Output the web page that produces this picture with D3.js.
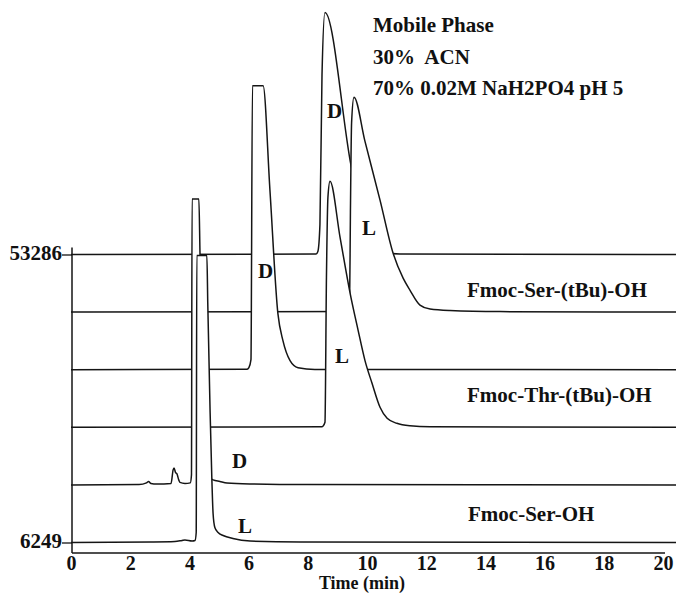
<!DOCTYPE html>
<html><head><meta charset="utf-8">
<script src="https://cdn.jsdelivr.net/npm/d3@7"></script>
<style>
html,body{margin:0;padding:0;background:#fff;}
svg{display:block;}
svg text{font-family:"Liberation Serif","Times New Roman",serif !important;font-weight:bold;fill:#111;}
</style></head><body>
<svg id="c" width="676" height="594"></svg>
<script>
// ---------- DATA ----------
const xTicks = [0, 2, 4, 6, 8, 10, 12, 14, 16, 18, 20];
const yTicks = [6249, 53286];
const xTitle = "Time (min)";
const mobilePhase = ["Mobile Phase", "30%  ACN", "70% 0.02M NaH2PO4 pH 5"];
const compounds = ["Fmoc-Ser-(tBu)-OH", "Fmoc-Thr-(tBu)-OH", "Fmoc-Ser-OH"];
const enantiomers = ["D", "L", "D", "L", "D", "L"];
// baseline offset (counts) of each trace, back to front
const baselineCounts = [53286, 43879, 34471, 25064, 15656, 6249];

// [time (min), signal above baseline (counts)]
const serTbuD = [[0,0],[8.28,80],[8.34,490],[8.41,4900],[8.48,29400],[8.58,39520],[9.46,14540],[9.76,7510],[10.03,3100],[10.30,980],[10.61,330],[11.11,80],[20.5,0]];
const serTbuL = [[0,0],[9.36,80],[9.41,490],[9.44,16330],[9.48,31030],[9.56,35110],[9.93,27930],[10.44,18290],[10.88,9640],[11.22,5550],[11.45,3590],[11.79,1140],[12.13,490],[12.80,245],[14.49,80],[20.5,0]];
const thrTbuD = [[0,0],[5.95,80],[6.01,330],[6.08,1630],[6.13,46380],[6.49,46380],[6.72,29400],[6.99,9150],[7.16,4740],[7.40,1470],[7.67,330],[8.24,50],[20.5,0]];
const thrTbuL = [[0,0],[8.48,80],[8.51,160],[8.58,820],[8.63,24500],[8.68,37560],[8.75,40180],[9.09,31030],[9.43,21880],[9.70,15840],[9.93,10940],[10.17,7190],[10.44,3270],[10.68,1470],[11.01,650],[11.45,245],[12.13,80],[20.5,0]];
const serD = [[0,0],[2.3,50],[2.55,330],[2.62,570],[2.70,245],[2.9,160],[3.38,245],[3.45,2450],[3.48,2780],[3.53,2040],[3.58,1800],[3.64,820],[3.68,410],[3.85,245],[4.03,330],[4.07,1630],[4.09,46710],[4.32,46710],[4.36,37400],[4.39,32660],[4.46,19600],[4.53,8170],[4.59,3270],[4.70,1140],[4.80,820],[5.03,570],[5.27,330],[6.05,160],[8,50],[20.5,0]];
const serL = [[0,0],[2.7,80],[3.51,160],[3.75,330],[3.85,410],[4.09,245],[4.19,330],[4.23,1630],[4.25,46870],[4.59,46870],[4.62,39200],[4.70,21230],[4.76,10130],[4.80,4740],[4.86,2450],[4.97,1630],[5.14,1140],[5.47,650],[6.05,245],[7.74,80],[20.5,0]];
const traces = [serTbuD, serTbuL, thrTbuD, thrTbuL, serD, serL];

// ---------- CHART ----------
const FONT = '"Liberation Serif","Times New Roman",serif';
const svg = d3.select("#c");
const x = d3.scaleLinear().domain([0, 20]).range([71, 663]);
const y = d3.scaleLinear().domain([6249, 53286]).range([542.5, 254.5]);
const axisY = 553;
const stroke = "#151515";

// traces, back to front, with white fill to hide lines behind
traces.forEach((tr, i) => {
  const b = baselineCounts[i];
  const area = d3.area().curve(d3.curveMonotoneX)
    .x(d => x(d[0])).y0(y(b)).y1(d => y(b + d[1]));
  const line = d3.line().curve(d3.curveMonotoneX)
    .x(d => x(d[0])).y(d => y(b + d[1]));
  svg.append("path").attr("d", area(tr)).attr("fill", "#fff").attr("stroke", "none");
  svg.append("path").attr("d", line(tr)).attr("fill", "none")
    .attr("stroke", stroke).attr("stroke-width", 1.5).attr("stroke-linejoin", "round");
});

// x axis
const gx = svg.append("g").attr("transform", `translate(0,${axisY})`)
  .call(d3.axisBottom(x).tickValues(xTicks).tickSize(0).tickPadding(3).tickFormat(d3.format("d")));
gx.attr("font-family", FONT);
gx.select(".domain").remove();
gx.selectAll("text").attr("font-size", 20).style("font-family", FONT).style("font-weight", "bold").style("fill", "#111");
svg.append("line").attr("x1", x(0) + 1).attr("x2", x(20) + 2).attr("y1", axisY).attr("y2", axisY)
  .attr("stroke", stroke).attr("stroke-width", 1.5);

// y axis
const gy = svg.append("g").attr("transform", `translate(${x(0) + 1},0)`)
  .call(d3.axisLeft(y).tickValues(yTicks).tickSize(10).tickPadding(0).tickFormat(d3.format("d")));
gy.attr("font-family", FONT);
gy.select(".domain").remove();
gy.selectAll("line").attr("stroke", stroke).attr("stroke-width", 1.3);
gy.selectAll("text").attr("font-size", 21).attr("dy", "0.25em").style("font-family", FONT).style("font-weight", "bold").style("fill", "#111");
svg.append("line").attr("x1", x(0) + 1).attr("x2", x(0) + 1).attr("y1", y(53286) - 7).attr("y2", axisY)
  .attr("stroke", stroke).attr("stroke-width", 1.5);

svg.append("text").attr("x", 362).attr("y", 589).attr("text-anchor", "middle")
  .attr("font-size", 18).style("font-family", FONT).text(xTitle);

// mobile phase annotation
const mpY = [32, 64, 95];
mobilePhase.forEach((s, i) => {
  svg.append("text").attr("x", 373).attr("y", mpY[i]).attr("font-size", 21)
    .style("font-family", FONT).style("white-space", "pre").text(s);
});

// compound labels
const cpPos = [[467, 297], [467, 402], [468, 521]];
compounds.forEach((s, i) => {
  svg.append("text").attr("x", cpPos[i][0]).attr("y", cpPos[i][1]).attr("font-size", 21)
    .style("font-family", FONT).text(s);
});

// D / L labels
const dlPos = [[327, 118], [362, 235], [258, 278], [335, 363], [232, 468], [238, 533]];
enantiomers.forEach((s, i) => {
  svg.append("text").attr("x", dlPos[i][0]).attr("y", dlPos[i][1]).attr("font-size", 21)
    .style("font-family", FONT).text(s);
});
</script>
</body></html>
